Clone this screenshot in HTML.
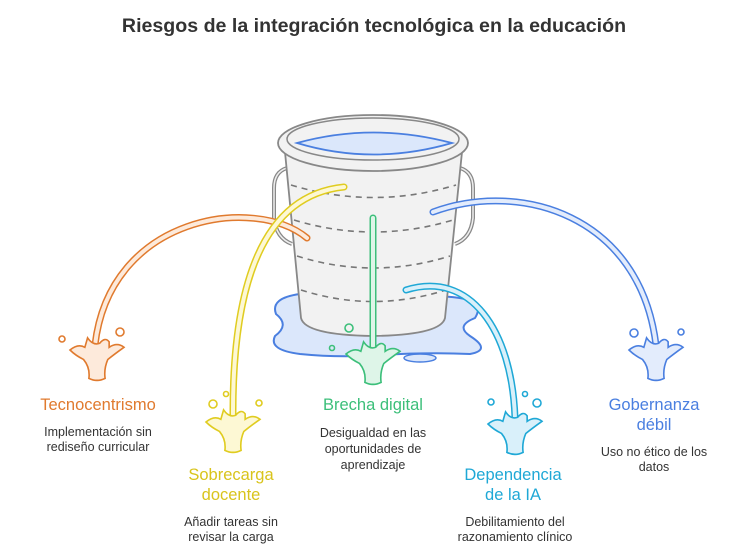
<!DOCTYPE html>
<html><head><meta charset="utf-8"><style>
body{margin:0;background:#fff;}
svg{display:block;font-family:"Liberation Sans",sans-serif;}
.t{font-size:16.5px;text-anchor:middle}
.d{font-size:12.5px;fill:#333;text-anchor:middle}
</style></head><body>
<svg width="747" height="558" viewBox="0 0 747 558">
<defs>
<path id="sp" d="M-20,0 Q-14,-5 -9,-2 L-7,-9 Q-3,-3 2,-5 Q6,-10 9,-6 L9,-2 Q15,-6 20,-2 Q13,3 8,7 Q5,14 6,21 Q0,24 -6,21 Q-5,13 -10,7 Q-16,4 -20,0Z"/>
</defs>
<text x="374" y="32" text-anchor="middle" font-size="19.6" font-weight="bold" fill="#333">Riesgos de la integración tecnológica en la educación</text>
<!-- puddle -->
<path d="M300,294 Q270,298 276,314 Q290,325 275,336 Q268,350 300,354 Q340,358 380,355 Q430,352 470,354 Q492,350 470,336 Q455,326 475,318 Q484,304 465,299 Q440,294 420,299 Z" fill="#dbe7fb" stroke="#4a7fe0" stroke-width="2"/>
<ellipse cx="420" cy="358" rx="16" ry="4" fill="#dbe7fb" stroke="#4a7fe0" stroke-width="1.5"/>
<!-- handles -->
<path d="M287,168 Q274,172 274,188 L274,218 Q276,238 292,244" fill="none" stroke="#888" stroke-width="4"/>
<path d="M287,168 Q274,172 274,188 L274,218 Q276,238 292,244" fill="none" stroke="#eee" stroke-width="1.5"/>
<path d="M460,168 Q473,172 473,188 L473,218 Q471,238 455,244" fill="none" stroke="#888" stroke-width="4"/>
<path d="M460,168 Q473,172 473,188 L473,218 Q471,238 455,244" fill="none" stroke="#eee" stroke-width="1.5"/>
<!-- body -->
<path d="M285,152 L301,318 Q305,335 373,336 Q441,335 445,318 L462,152 Z" fill="#f2f2f2" stroke="#888" stroke-width="1.8"/>
<g fill="none" stroke="#777" stroke-width="1.6" stroke-dasharray="6,5">
<path d="M291,185 Q373,210 456,185"/>
<path d="M294,220 Q373,244 453,220"/>
<path d="M297,256 Q373,280 450,256"/>
<path d="M301,290 Q373,313 446,290"/>
</g>
<!-- rim -->
<ellipse cx="373" cy="143" rx="95" ry="28" fill="#f2f2f2" stroke="#888" stroke-width="1.8"/>
<ellipse cx="373" cy="139" rx="86" ry="21" fill="#f2f2f2" stroke="#888" stroke-width="1.5"/>
<path d="M297,143 Q373,122 452,143 Q373,166 297,143Z" fill="#dbe7fb" stroke="#4a7fe0" stroke-width="1.8"/>
<!-- streams -->
<g fill="none" stroke-linecap="round">
<path d="M307,238 C255,195 110,215 95,345" stroke="#e07a2e" stroke-width="7"/>
<path d="M307,238 C255,195 110,215 95,345" stroke="#fdeadb" stroke-width="4"/>
<path d="M344,187 C265,195 232,280 233,418" stroke="#e0cc20" stroke-width="7"/>
<path d="M344,187 C265,195 232,280 233,418" stroke="#fdf8d4" stroke-width="4"/>
<path d="M373,218 L373,350" stroke="#3cbf7a" stroke-width="7"/>
<path d="M373,218 L373,350" stroke="#def5e8" stroke-width="4"/>
<path d="M406,290 C470,270 512,330 515,418" stroke="#1fa8d6" stroke-width="7"/>
<path d="M406,290 C470,270 512,330 515,418" stroke="#d9f0fa" stroke-width="4"/>
<path d="M433,212 C520,180 640,215 656,345" stroke="#4a7fe0" stroke-width="7"/>
<path d="M433,212 C520,180 640,215 656,345" stroke="#e3ecfc" stroke-width="4"/>
</g>
<!-- splashes -->
<g stroke-width="1.6">
<use href="#sp" transform="translate(97,350) scale(1.35)" fill="#fdeadb" stroke="#e07a2e" stroke-width="1.2"/>
<circle cx="62" cy="339" r="3" fill="none" stroke="#e07a2e"/><circle cx="120" cy="332" r="4" fill="none" stroke="#e07a2e"/>
<use href="#sp" transform="translate(233,422) scale(1.35)" fill="#fdf8d4" stroke="#e0cc20" stroke-width="1.2"/>
<circle cx="213" cy="404" r="4" fill="none" stroke="#e0cc20"/><circle cx="226" cy="394" r="2.5" fill="none" stroke="#e0cc20"/><circle cx="259" cy="403" r="3" fill="none" stroke="#e0cc20"/>
<use href="#sp" transform="translate(373,354) scale(1.35)" fill="#def5e8" stroke="#3cbf7a" stroke-width="1.2"/>
<circle cx="349" cy="328" r="4" fill="none" stroke="#3cbf7a"/><circle cx="332" cy="348" r="2.5" fill="none" stroke="#3cbf7a"/>
<use href="#sp" transform="translate(515,424) scale(1.35)" fill="#d9f0fa" stroke="#1fa8d6" stroke-width="1.2"/>
<circle cx="491" cy="402" r="3" fill="none" stroke="#1fa8d6"/><circle cx="525" cy="394" r="2.5" fill="none" stroke="#1fa8d6"/><circle cx="537" cy="403" r="4" fill="none" stroke="#1fa8d6"/>
<use href="#sp" transform="translate(656,350) scale(1.35)" fill="#e3ecfc" stroke="#4a7fe0" stroke-width="1.2"/>
<circle cx="634" cy="333" r="4" fill="none" stroke="#4a7fe0"/><circle cx="681" cy="332" r="3" fill="none" stroke="#4a7fe0"/>
</g>
<!-- labels -->
<text class="t" x="98" y="410" fill="#e07a2e">Tecnocentrismo</text>
<text class="d" x="98" y="436">Implementación sin</text>
<text class="d" x="98" y="451">rediseño curricular</text>
<text class="t" x="231" y="480" fill="#d9c41c">Sobrecarga</text>
<text class="t" x="231" y="500" fill="#d9c41c">docente</text>
<text class="d" x="231" y="526">Añadir tareas sin</text>
<text class="d" x="231" y="541">revisar la carga</text>
<text class="t" x="373" y="410" fill="#3cbf7a">Brecha digital</text>
<text class="d" x="373" y="437">Desigualdad en las</text>
<text class="d" x="373" y="453">oportunidades de</text>
<text class="d" x="373" y="469">aprendizaje</text>
<text class="t" x="513" y="480" fill="#1fa8d6">Dependencia</text>
<text class="t" x="513" y="500" fill="#1fa8d6">de la IA</text>
<text class="d" x="515" y="526">Debilitamiento del</text>
<text class="d" x="515" y="541">razonamiento clínico</text>
<text class="t" x="654" y="410" fill="#4a7fe0">Gobernanza</text>
<text class="t" x="654" y="430" fill="#4a7fe0">débil</text>
<text class="d" x="654" y="456">Uso no ético de los</text>
<text class="d" x="654" y="471">datos</text>
</svg>
</body></html>
